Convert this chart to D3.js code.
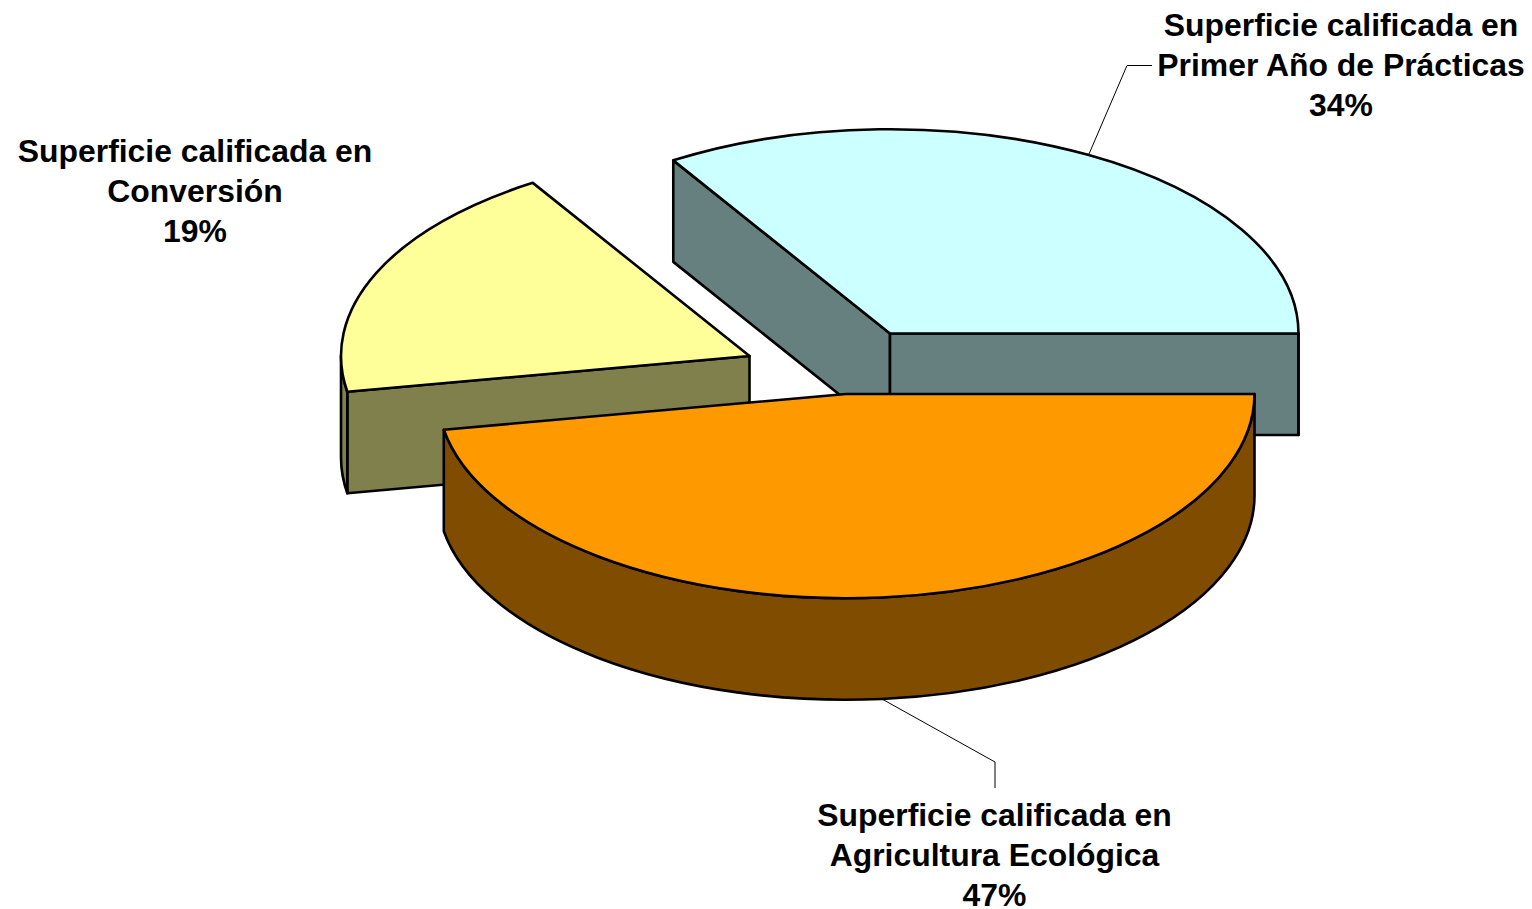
<!DOCTYPE html>
<html>
<head>
<meta charset="utf-8">
<script src="https://d3js.org/d3.v7.min.js"></script>
<style>
  html, body { margin: 0; padding: 0; background: #fff; }
  svg { display: block; }
  text { font-family: "Liberation Sans", Arial, sans-serif; font-weight: bold; font-size: 31.9px; fill: #000; text-anchor: middle; }
  .edge { vector-effect: non-scaling-stroke; stroke: #000; stroke-width: 2.6; stroke-linejoin: round; }
</style>
</head>
<body>
<script>
// slices in drawing order of the original sheet
const categories = ["Primer Año de Prácticas", "Agricultura Ecológica", "Conversión"];
// shares, the labels show them rounded
const shares = [33.9, 47.2, 18.9];
const topColors = ["#CCFFFF", "#FF9900", "#FFFF99"];
const sideColors = ["#668080", "#804D00", "#80804D"];

// each wedge is pulled away from the pie, these are the wedge tips on the page
const tipX = [890, 846, 749.5];
const tipY = [333.5, 394, 356];

const radius = 408.5;
const tilt = 0.5;     // ellipse height / width
const depth = 101.5;  // height of the wall on the page

const width = 1532, height = 909;

const svg = d3.select("body").append("svg")
  .attr("width", width)
  .attr("height", height);

// blue slice ends exactly at 3 o'clock in the picture
const start = Math.PI / 2 - 2 * Math.PI * shares[0] / d3.sum(shares);
const pie = d3.pie().sort(null).startAngle(start).endAngle(start + 2 * Math.PI);
const slices = pie(shares);

const arc = d3.arc().innerRadius(0).outerRadius(radius);

// d3 angles run clockwise from 12 o'clock, canvas ones from 3 o'clock
const canvasAngle = a => a - Math.PI / 2;

function wallOuter(d) {
  // outside wall, only the part that faces the viewer (canvas angle 0..PI)
  let a0 = Math.max(canvasAngle(d.startAngle), 0);
  let a1 = Math.min(canvasAngle(d.endAngle), Math.PI);
  if (a1 <= a0) return null;
  const drop = depth / tilt;
  const p = d3.path();
  p.arc(0, 0, radius, a0, a1);
  p.lineTo(radius * Math.cos(a1), radius * Math.sin(a1) + drop);
  p.arc(0, drop, radius, a1, a0, true);
  p.closePath();
  return p.toString();
}

function wallCut(angle) {
  // flat cut face going from the tip to the rim
  const drop = depth / tilt;
  const a = canvasAngle(angle);
  const x = radius * Math.cos(a), y = radius * Math.sin(a);
  const p = d3.path();
  p.moveTo(0, 0);
  p.lineTo(x, y);
  p.lineTo(x, y + drop);
  p.lineTo(0, drop);
  p.closePath();
  return p.toString();
}

// blue first, then yellow, orange is in front of both
const order = [0, 2, 1];

order.forEach(i => {
  const d = slices[i];
  const g = svg.append("g")
    .attr("transform", `translate(${tipX[i]},${tipY[i]}) scale(1,${tilt})`);

  // cut faces that can be seen from the front
  if (i === 0) {
    [d.startAngle, d.endAngle].forEach(a => {
      g.append("path").attr("class", "edge").attr("d", wallCut(a)).attr("fill", sideColors[i]);
    });
  }
  if (i === 2) {
    g.append("path").attr("class", "edge").attr("d", wallCut(d.startAngle)).attr("fill", sideColors[i]);
  }

  const outer = wallOuter(d);
  if (outer) g.append("path").attr("class", "edge").attr("d", outer).attr("fill", sideColors[i]);

  g.append("path").attr("class", "edge").attr("d", arc(d)).attr("fill", topColors[i]);
});

// leader lines
const leaders = [
  [[1089, 154], [1127, 65.5], [1152, 65.5]],
  [[882, 699], [995, 762], [995, 788]]
];
const line = d3.line();
svg.selectAll("path.leader").data(leaders).enter().append("path")
  .attr("class", "leader")
  .attr("d", line)
  .attr("fill", "none")
  .attr("stroke", "#000")
  .attr("stroke-width", 1);

// labels
const labelCenters = [[1341, 35.5], [994.5, 825.5], [195, 161.5]];
slices.forEach((d, i) => {
  const lines = ["Superficie calificada en", categories[i], Math.round(shares[i]) + "%"];
  svg.append("g").selectAll("text").data(lines).enter().append("text")
    .attr("x", labelCenters[i][0])
    .attr("y", (t, k) => labelCenters[i][1] + k * 40)
    .text(t => t);
});
</script>
</body>
</html>
